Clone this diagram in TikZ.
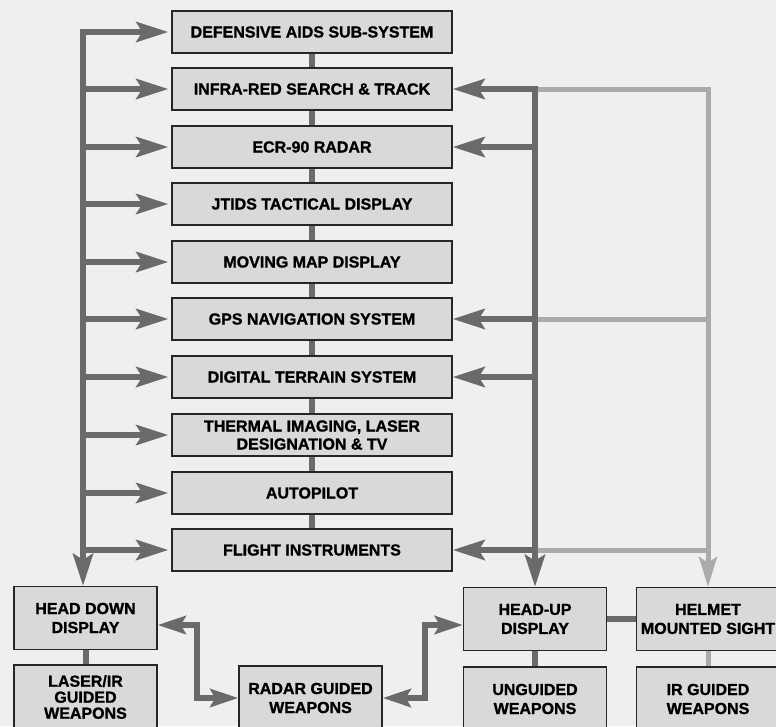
\documentclass[tikz,border=0pt]{standalone}
\usepackage{fontspec}
\setmainfont{Liberation Sans}[BoldFeatures={FakeBold=1.2}]
\usetikzlibrary{arrows.meta}
\definecolor{bg}{HTML}{EFEFEF}
\definecolor{boxfill}{HTML}{D9D9D9}
\definecolor{dk}{HTML}{6A6A6A}
\definecolor{lt}{HTML}{ABABAB}
\begin{document}
\begin{tikzpicture}[x=1pt,y=-1pt,
  box/.style={draw=black!85, line width=1.3pt, fill=boxfill,
    font=\fontsize{16}{19}\selectfont\bfseries, align=center, inner sep=0pt},
  mbox/.style={box, minimum width=280pt, minimum height=42pt},
  sbox/.style={box, minimum width=143pt, minimum height=63pt},
  link/.style={draw=dk, line width=6pt},
  ltlink/.style={draw=lt, line width=5pt},
  arr/.style={link, -{Stealth[length=32pt,width=20pt,inset=6pt]}},
  ltarr/.style={ltlink, -{Stealth[length=30pt,width=18pt,inset=6pt]}},
  darr/.style={link, {Stealth[length=28pt,width=18pt,inset=5pt]}-{Stealth[length=28pt,width=18pt,inset=5pt]}},
]
\fill[bg] (0,0) rectangle (776,726);
\useasboundingbox (0,0) rectangle (776,726);
\clip (0,0) rectangle (776,726);

% main column
\node[mbox] (das)  at (312,32)  {DEFENSIVE AIDS SUB-SYSTEM};
\node[mbox] (irst) at (312,89)  {INFRA-RED SEARCH \& TRACK};
\node[mbox] (ecr)  at (312,147) {ECR-90 RADAR};
\node[mbox] (jt)   at (312,204) {JTIDS TACTICAL DISPLAY};
\node[mbox] (mm)   at (312,262) {MOVING MAP DISPLAY};
\node[mbox] (gps)  at (312,319) {GPS NAVIGATION SYSTEM};
\node[mbox] (dts)  at (312,377) {DIGITAL TERRAIN SYSTEM};
\node[mbox, font=\fontsize{16}{18}\selectfont\bfseries] (tld) at (312,435) {THERMAL IMAGING, LASER\\DESIGNATION \& TV};
\node[mbox] (ap)   at (312,493) {AUTOPILOT};
\node[mbox] (fi)   at (312,550) {FLIGHT INSTRUMENTS};

% bottom boxes
\node[sbox] (hdd) at (85.5,618) {HEAD DOWN\\DISPLAY};
\node[sbox, minimum height=64pt, font=\fontsize{16}{16}\selectfont\bfseries] (lig) at (85.5,697) {LASER/IR\\GUIDED\\WEAPONS};
\node[sbox, minimum height=64pt] (rgw) at (310.5,698) {RADAR GUIDED\\WEAPONS};
\node[sbox] (hud) at (535,619) {HEAD-UP\\DISPLAY};
\node[sbox, minimum height=64pt] (ugw) at (535,699) {UNGUIDED\\WEAPONS};
\node[sbox] (hms) at (708,619) {HELMET\\MOUNTED SIGHT};
\node[sbox, minimum height=64pt] (irg) at (708,699) {IR GUIDED\\WEAPONS};

% bus coordinates
\coordinate (lb) at (83,32);
\coordinate (rb) at (535,89);
\coordinate (eL) at (197,625);
\coordinate (eR) at (425,625);

% column links
\foreach \a/\b in {das/irst,irst/ecr,ecr/jt,jt/mm,mm/gps,gps/dts,dts/tld,tld/ap,ap/fi}
  \draw[link] (\a) -- (\b);
\draw[link] (hdd) -- (lig);
\draw[link] (hud) -- (ugw);
\draw[link] (hud) -- (hms);
\draw[ltlink] (hms) -- (irg);

% left bus
\draw[arr] ([yshift=3pt]lb) -- (lb|-hdd.north);
\foreach \n in {das,irst,ecr,jt,mm,gps,dts,tld,ap,fi}
  \draw[arr, shorten >=3pt] (lb|-\n.west) -- (\n.west);

% light bus (helmet)
\draw[ltlink] (rb|-gps.east) -- (hms.north|-gps.east);
\draw[ltlink] (rb|-fi.east) -- (hms.north|-fi.east);
\draw[ltarr, line join=miter] (rb) -| (hms.north);

% right bus
\draw[arr] ([yshift=3pt]rb) -- (rb|-hud.north);
\foreach \n in {irst,ecr,gps,dts,fi}
  \draw[arr] (rb|-\n.east) -- (\n.east);

% weapon links
\draw[darr, line join=miter] (eL-|hdd.east) -- (eL) -- (eL|-rgw.west) -- (rgw.west);
\draw[darr, line join=miter] (rgw.east) -- (eR|-rgw.east) -- (eR) -- (eR-|hud.west);
\end{tikzpicture}
\end{document}
